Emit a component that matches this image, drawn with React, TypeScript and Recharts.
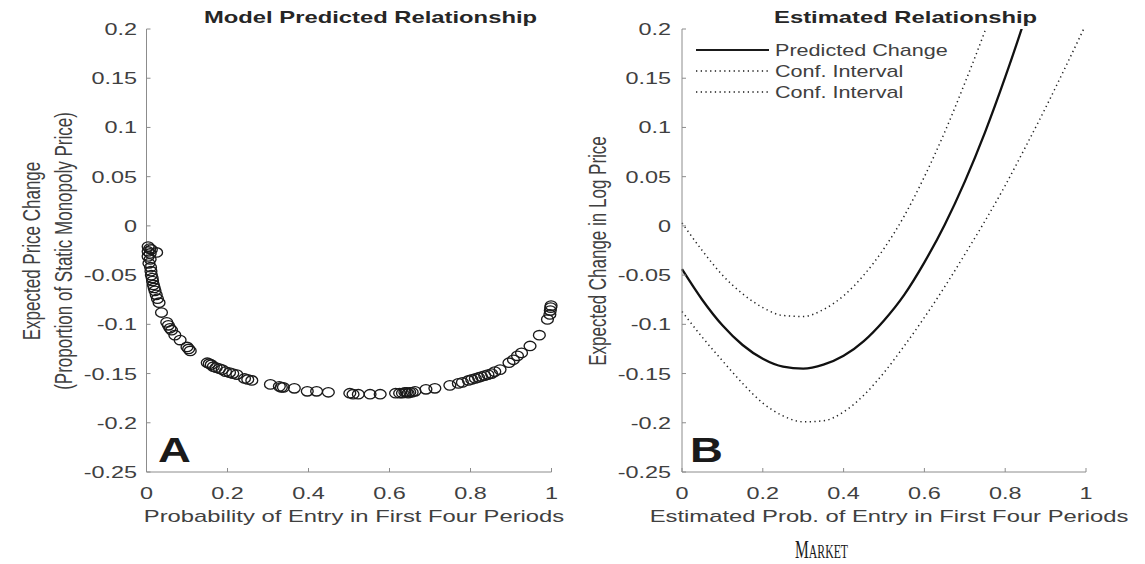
import React from 'react';
import {
  ScatterChart, Scatter, LineChart, Line, XAxis, YAxis, Legend
} from 'recharts';

// panel A: simulated markets (probability of entry, expected price change)
const entryProb = [
  0.004, 0.008, 0.012, 0.025, 0.004, 0.009, 0.004, 0.009, 0.006, 0.010,
  0.011, 0.012, 0.014, 0.015, 0.017, 0.019, 0.021, 0.024, 0.027, 0.031,
  0.037, 0.050, 0.054, 0.058, 0.062, 0.070, 0.083, 0.100, 0.104, 0.108,
  0.150, 0.155, 0.160, 0.165, 0.172, 0.180, 0.187, 0.195, 0.205, 0.213,
  0.223, 0.242, 0.250, 0.260, 0.306, 0.328, 0.333, 0.338, 0.365, 0.397,
  0.420, 0.449, 0.502, 0.510, 0.523, 0.552, 0.577, 0.615, 0.625, 0.632,
  0.638, 0.642, 0.646, 0.650, 0.656, 0.663, 0.690, 0.712, 0.749, 0.770,
  0.780, 0.795, 0.803, 0.812, 0.820, 0.827, 0.835, 0.843, 0.852, 0.860,
  0.873, 0.895, 0.906, 0.916, 0.926, 0.947, 0.970, 0.990, 0.996, 0.997,
  0.998, 0.999,
];
const priceChange = [
  -0.021, -0.023, -0.024, -0.027, -0.026, -0.028, -0.031, -0.034, -0.038, -0.042,
  -0.046, -0.050, -0.053, -0.056, -0.060, -0.063, -0.066, -0.070, -0.074, -0.078,
  -0.088, -0.098, -0.101, -0.104, -0.106, -0.111, -0.116, -0.123, -0.125, -0.127,
  -0.139, -0.140, -0.141, -0.143, -0.144, -0.145, -0.146, -0.148, -0.149, -0.150,
  -0.151, -0.155, -0.156, -0.157, -0.161, -0.163, -0.164, -0.164, -0.165, -0.168,
  -0.168, -0.169, -0.170, -0.171, -0.171, -0.171, -0.171, -0.170, -0.170, -0.170,
  -0.169, -0.169, -0.170, -0.169, -0.169, -0.168, -0.166, -0.165, -0.162, -0.160,
  -0.159, -0.157, -0.156, -0.155, -0.154, -0.153, -0.152, -0.151, -0.150, -0.148,
  -0.146, -0.139, -0.136, -0.132, -0.129, -0.122, -0.111, -0.095, -0.090, -0.086,
  -0.083, -0.081,
];

// panel B: estimated relationship
const estProb = [0, 0.05, 0.1, 0.15, 0.2, 0.25, 0.3, 0.35, 0.4, 0.45, 0.5, 0.55, 0.6, 0.65, 0.7, 0.75, 0.8, 0.85, 0.9, 0.95, 1];
const predicted = [-0.044, -0.075, -0.101, -0.121, -0.135, -0.143, -0.145, -0.141, -0.132, -0.117, -0.096, -0.070, -0.037, 0.001, 0.045, 0.095, 0.151, 0.212, 0.28, null, null];
const ciUpper = [0.003, -0.025, -0.050, -0.069, -0.083, -0.091, -0.092, -0.085, -0.071, -0.050, -0.023, 0.010, 0.050, 0.095, 0.145, 0.198, 0.255, null, null, null, null];
const ciLower = [-0.087, -0.113, -0.137, -0.160, -0.180, -0.193, -0.199, -0.198, -0.189, -0.172, -0.149, -0.122, -0.093, -0.062, -0.029, 0.005, 0.041, 0.080, 0.120, 0.162, 0.205];

const xTicks = [0, 0.2, 0.4, 0.6, 0.8, 1];
const yTicks = [-0.25, -0.2, -0.15, -0.1, -0.05, 0, 0.05, 0.1, 0.15, 0.2];

const FONT = '"Liberation Sans", Arial, Helvetica, sans-serif';
const AXIS = '#8c8c8c';
const TXT = '#404040';

const scatterData = entryProb.map((x, i) => ({ x, y: priceChange[i] }));
const lineData = estProb.map((p, i) => ({ p, pred: predicted[i], hi: ciUpper[i], lo: ciLower[i] }));

const YTick = (props: any) => {
  const { x, y, payload } = props;
  return (
    <g transform={`translate(${x},${y + 6})`}>
      <text transform="scale(1.42,1)" textAnchor="end" fontSize={16.5} fontFamily={FONT} fill={TXT}>
        {String(payload.value)}
      </text>
    </g>
  );
};

const XTick = (props: any) => {
  const { x, y, payload } = props;
  return (
    <g transform={`translate(${x},${y + 12})`}>
      <text transform="scale(1.42,1)" textAnchor="middle" fontSize={16.5} fontFamily={FONT} fill={TXT}>
        {String(payload.value)}
      </text>
    </g>
  );
};

const XLabel = ({ cx, text }: any) => (
  <g transform={`translate(${cx},522)`}>
    <text transform="scale(1.4,1)" textAnchor="middle" fontSize={17} fontFamily={FONT} fill={TXT}>{text}</text>
  </g>
);

const YLabel = ({ lines, xs }: any) => (
  <g>
    {lines.map((t: string, i: number) => (
      <g key={t} transform={`translate(${xs[i]},251) rotate(-90) scale(1,1.4)`}>
        <text textAnchor="middle" fontSize={17} fontFamily={FONT} fill={TXT}>{t}</text>
      </g>
    ))}
  </g>
);

const Ring = (props: any) => {
  const { cx, cy } = props;
  if (cx == null || cy == null) return null;
  return <ellipse cx={cx} cy={cy} rx={5.9} ry={4.7} fill="none" stroke="#1a1a1a" strokeWidth={1.35} />;
};

const LegendBox = () => {
  const rows = [
    { label: 'Predicted Change', dash: undefined, w: 2.2 },
    { label: 'Conf. Interval', dash: '1.3 3.4', w: 1.4 },
    { label: 'Conf. Interval', dash: '1.3 3.4', w: 1.4 },
  ];
  return (
    <svg width={270} height={70} style={{ display: 'block' }}>
      {rows.map((r, i) => (
        <g key={i}>
          <line x1={0} x2={73} y1={12 + i * 21} y2={12 + i * 21} stroke="#1a1a1a" strokeWidth={r.w} strokeDasharray={r.dash} />
          <g transform={`translate(79,${17.5 + i * 21})`}>
            <text transform="scale(1.35,1)" fontSize={16} fontFamily={FONT} fill={TXT}>{r.label}</text>
          </g>
        </g>
      ))}
    </svg>
  );
};

const App: React.FC = () => {
  return (
    <div style={{ position: 'absolute', left: 0, top: 0, width: 1145, height: 564, background: '#fff', overflow: 'hidden' }}>
      {/* Panel A */}
      <div style={{ position: 'absolute', left: 0, top: 0 }}>
        <ScatterChart width={580} height={564} margin={{ top: 29, right: 28.5, left: 86.5, bottom: 42 }}>
          <XAxis
            type="number" dataKey="x" domain={[0, 1]} ticks={xTicks} height={50}
            stroke={AXIS} tickSize={-4} tickMargin={19} tick={XTick}
            label={<XLabel cx={354} text="Probability of Entry in First Four Periods" />}
          />
          <YAxis
            type="number" dataKey="y" domain={[-0.25, 0.2]} ticks={yTicks} width={60} allowDataOverflow
            stroke={AXIS} tickSize={-4} tickMargin={13.5} tick={YTick}
            label={<YLabel lines={['Expected Price Change', '(Proportion of Static Monopoly Price)']} xs={[40, 72]} />}
          />
          <Scatter data={scatterData} shape={Ring} isAnimationActive={false} />
        </ScatterChart>
      </div>

      {/* Panel B */}
      <div style={{ position: 'absolute', left: 580, top: 0 }}>
        <LineChart width={565} height={564} data={lineData} margin={{ top: 29, right: 59, left: 42, bottom: 42 }}>
          <XAxis
            type="number" dataKey="p" domain={[0, 1]} ticks={xTicks} height={50}
            stroke={AXIS} tickSize={-4} tickMargin={19} tick={XTick}
            label={<XLabel cx={309} text="Estimated Prob. of Entry in First Four Periods" />}
          />
          <YAxis
            type="number" domain={[-0.25, 0.2]} ticks={yTicks} width={60} allowDataOverflow
            stroke={AXIS} tickSize={-4} tickMargin={15} tick={YTick}
            label={<YLabel lines={['Expected Change in Log Price']} xs={[25.5]} />}
          />
          <Legend
            layout="vertical" align="center" verticalAlign="middle"
            content={<LegendBox />}
            wrapperStyle={{ position: 'absolute', left: 116, top: 38, width: 270, height: 70 }}
          />
          <Line type="monotone" dataKey="pred" name="Predicted Change" stroke="#111" strokeWidth={2.3} dot={false} isAnimationActive={false} />
          <Line type="monotone" dataKey="hi" name="Conf. Interval" stroke="#222" strokeWidth={1.5} strokeDasharray="1.3 3.4" dot={false} isAnimationActive={false} />
          <Line type="monotone" dataKey="lo" name="Conf. Interval" stroke="#222" strokeWidth={1.5} strokeDasharray="1.3 3.4" dot={false} isAnimationActive={false} />
        </LineChart>
      </div>

      {/* titles, panel letters and caption */}
      <svg width={1145} height={564} style={{ position: 'absolute', left: 0, top: 0, pointerEvents: 'none' }}>
        <g transform="translate(370.5,23)">
          <text transform="scale(1.4,1)" textAnchor="middle" fontSize={17} fontWeight="bold" fontFamily={FONT} fill="#262626">Model Predicted Relationship</text>
        </g>
        <g transform="translate(905.6,23)">
          <text transform="scale(1.4,1)" textAnchor="middle" fontSize={17} fontWeight="bold" fontFamily={FONT} fill="#262626">Estimated Relationship</text>
        </g>
        <g transform="translate(158,462)">
          <text transform="scale(1.3,1)" fontSize={35} fontWeight="bold" fontFamily={FONT} fill="#1a1a1a">A</text>
        </g>
        <g transform="translate(690,462)">
          <text transform="scale(1.3,1)" fontSize={35} fontWeight="bold" fontFamily={FONT} fill="#1a1a1a">B</text>
        </g>
        <g transform="translate(795,557.5)">
          <text transform="scale(0.62,1)" fontFamily='"Liberation Serif", "Times New Roman", serif' fill="#1a1a1a">
            <tspan fontSize={25}>M</tspan><tspan fontSize={19}>ARKET</tspan>
          </text>
        </g>
      </svg>
    </div>
  );
};

export default App;
